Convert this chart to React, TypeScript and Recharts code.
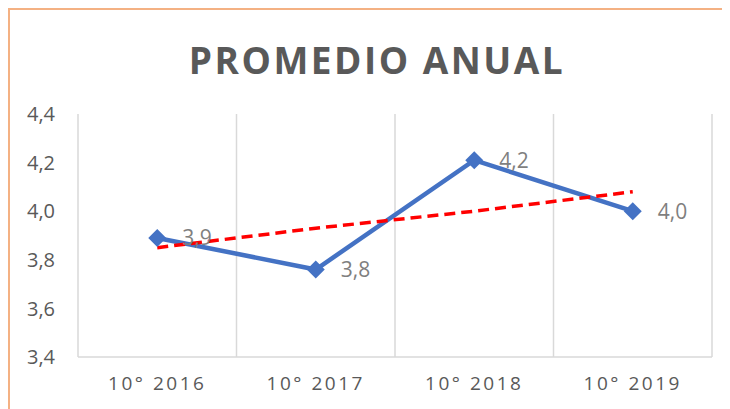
import { LineChart, Line, XAxis, YAxis, CartesianGrid, LabelList } from 'recharts'

const categories = ['10° 2016', '10° 2017', '10° 2018', '10° 2019']
const promedio = [3.89, 3.76, 4.21, 4.0]
// linear trend
const tendencia = [3.85, 3.93, 4.0, 4.08]
const yTicks = [3.4, 3.6, 3.8, 4.0, 4.2, 4.4]

const data = categories.map((name, i) => ({
  name,
  promedio: promedio[i],
  tendencia: tendencia[i],
}))

const FONT = '"Open Sans", "Noto Sans", sans-serif'
const comma = (v: number) => v.toFixed(1).replace('.', ',')

const Diamond = (props: any) => {
  const { cx, cy } = props
  if (cx == null || cy == null) return null
  const r = 9
  return (
    <polygon
      points={`${cx},${cy - r} ${cx + r},${cy} ${cx},${cy + r} ${cx - r},${cy}`}
      fill="#4472C4"
    />
  )
}

export default function App() {
  return (
    <div
      style={{
        position: 'relative',
        width: 720,
        height: 399,
        borderTop: '2px solid #F4B183',
        borderLeft: '2px solid #F4B183',
        fontFamily: FONT,
        background: '#fff',
      }}
    >
      <div
        style={{
          position: 'absolute',
          top: 24,
          left: 0,
          width: 734,
          textAlign: 'center',
          fontSize: 37,
          fontWeight: 700,
          letterSpacing: 2.5,
          color: '#595959',
        }}
      >
        PROMEDIO ANUAL
      </div>
      <LineChart
        width={720}
        height={399}
        data={data}
        margin={{ top: 104, right: 18, left: 0, bottom: 0 }}
      >
        <CartesianGrid
          horizontal={false}
          stroke="#D9D9D9"
          strokeWidth={1.5}
          verticalCoordinatesGenerator={({ offset }: any) =>
            [0, 1, 2, 3, 4].map(i => offset.left + (i * offset.width) / 4)
          }
        />
        <XAxis
          dataKey="name"
          scale="band"
          height={52}
          axisLine={{ stroke: '#D9D9D9', strokeWidth: 1.5 }}
          tickLine={false}
          tickSize={0}
          tickMargin={20}
          tick={{ fill: '#595959', fontSize: 19, letterSpacing: 2.5, fontFamily: FONT }}
        />
        <YAxis
          domain={[3.4, 4.4]}
          ticks={yTicks}
          width={68}
          axisLine={false}
          tickLine={false}
          tickSize={0}
          tickMargin={23}
          tickFormatter={comma}
          tick={{ fill: '#595959', fontSize: 20, fontFamily: FONT }}
        />
        <Line
          dataKey="promedio"
          stroke="#4472C4"
          strokeWidth={4.5}
          dot={<Diamond />}
          activeDot={false}
          isAnimationActive={false}
        >
          <LabelList
            dataKey="promedio"
            position="right"
            offset={25}
            formatter={(v: any) => comma(Number(v))}
            fill="#7F7F7F"
            fontSize={21}
            fontFamily={FONT}
          />
        </Line>
        <Line
          dataKey="tendencia"
          stroke="#FF0000"
          strokeWidth={3.5}
          strokeDasharray="11 6"
          dot={false}
          activeDot={false}
          isAnimationActive={false}
        />
      </LineChart>
    </div>
  )
}
